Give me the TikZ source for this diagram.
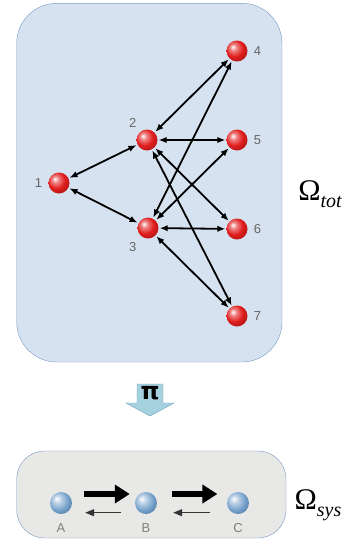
\documentclass[tikz,border=0pt]{standalone}
\usepackage{fontspec}
\newfontfamily\labelfont{Liberation Sans}
\newfontfamily\symfont{Liberation Serif}
\newfontfamily\pifont{DejaVu Sans}
\usepackage{tikz}
\usetikzlibrary{arrows.meta, positioning}

\definecolor{boxline}{RGB}{120,152,196}
\definecolor{topfill}{RGB}{214,226,240}
\definecolor{botfill}{RGB}{232,232,230}
\definecolor{projfill}{RGB}{166,210,224}
\definecolor{projline}{RGB}{110,160,190}
\definecolor{ballred}{RGB}{225,30,30}
\definecolor{ballblue}{RGB}{110,155,200}

\pgfdeclareradialshading{redball}{\pgfqpoint{-10bp}{10bp}}{color(0bp)=(white);
  color(8bp)=(ballred!55!white); color(20bp)=(ballred); color(40bp)=(ballred!65!black);
  color(60bp)=(ballred!35!black)}
\pgfdeclareradialshading{blueball}{\pgfqpoint{-10bp}{10bp}}{color(0bp)=(white);
  color(9bp)=(ballblue!45!white); color(24bp)=(ballblue); color(42bp)=(ballblue!65!black);
  color(60bp)=(ballblue!40!black)}

\newcommand{\spacename}[1]{{\symfont\fontsize{30}{32}\selectfont Ω\raisebox{-7pt}{\fontsize{20}{22}\selectfont\itshape #1}}}

\begin{document}
\begin{tikzpicture}[x=1pt, y=-1pt,
    state/.style={circle, minimum size=21pt, inner sep=0pt, shading=redball},
    species/.style={circle, minimum size=22pt, inner sep=0pt, shading=blueball},
    num/.style={font=\labelfont\fontsize{13}{15}\selectfont, text=black!60, inner sep=1pt},
    link/.style={{Latex[length=8pt,width=6.5pt]}-{Latex[length=8pt,width=6.5pt]}, line width=1.8pt, shorten <=1pt, shorten >=1pt},
    fwd/.style={-{Triangle[length=15pt,width=18pt]}, line width=6pt},
    bwd/.style={-{Triangle[length=9pt,width=7pt]}, line width=1.4pt, black!80},
    space/.style={inner sep=0pt}
]
\useasboundingbox (0,0) rectangle (357,539);

% Boxes
\draw[boxline, fill=topfill, rounded corners=40pt] (16.7,3.3) rectangle (282,362);
\draw[boxline, fill=botfill, rounded corners=28pt] (16.7,451) rectangle (286,538);

% States
\node[state] (n1) at (59,183) {};
\node[state] (n2) at (147,140) {};
\node[state] (n3) at (148,228) {};
\node[state] (n4) at (237,51) {};
\node[state] (n5) at (237,140) {};
\node[state] (n6) at (237,229) {};
\node[state] (n7) at (237,316) {};

% State labels
\node[num, left=5pt of n1] (l1) {1};
\node[num] (l2) at (132.7,122.7) {2};
\node[num] (l3) at (132.7,246.7) {3};
\node[num, right=5pt of n4] (l4) {4};
\node[num, right=5pt of n5] (l5) {5};
\node[num, right=5pt of n6] (l6) {6};
\node[num, right=5pt of n7] (l7) {7};

% Transitions
\draw[link] (n1) -- (n2);
\draw[link] (n1) -- (n3);
\draw[link] (n2) -- (n4);
\draw[link] (n2) -- (n5);
\draw[link] (n2) -- (n6);
\draw[link] (n2) -- (n7);
\draw[link] (n3) -- (n4);
\draw[link] (n3) -- (n5);
\draw[link] (n3) -- (n6);
\draw[link] (n3) -- (n7);

\node[space] (OmTot) at (320,194) {\spacename{tot}};

% Projection
\draw[projline, fill=projfill] (137,384) -- (163,384) -- (163,403) -- (174,403)
    -- (150,416) -- (126,403) -- (137,403) -- cycle;
\node[font=\pifont\bfseries\fontsize{24}{26}\selectfont] (Proj) at (150,393) {π};

% Species
\node[species] (A) at (61,503) {};
\node[species] (B) at (146,503) {};
\node[species] (C) at (238,503) {};
\node[num, below=8pt of A, text=black!50] (lA) {A};
\node[num, below=8pt of B, text=black!50] (lB) {B};
\node[num, below=8pt of C, text=black!50] (lC) {C};

% Reactions
\draw[fwd, shorten <=11.7pt, shorten >=5pt] ([yshift=9pt]A.east) -- ([yshift=9pt]B.west);
\draw[bwd, shorten <=14pt, shorten >=13pt] ([yshift=-9.7pt]B.west) -- ([yshift=-9.7pt]A.east);
\draw[fwd, shorten <=14.3pt, shorten >=9.4pt] ([yshift=9pt]B.east) -- ([yshift=9pt]C.west);
\draw[bwd, shorten <=17pt, shorten >=16pt] ([yshift=-9.7pt]C.west) -- ([yshift=-9.7pt]B.east);

\node[space] (OmSys) at (318,505) {\spacename{sys}};

\end{tikzpicture}
\end{document}
